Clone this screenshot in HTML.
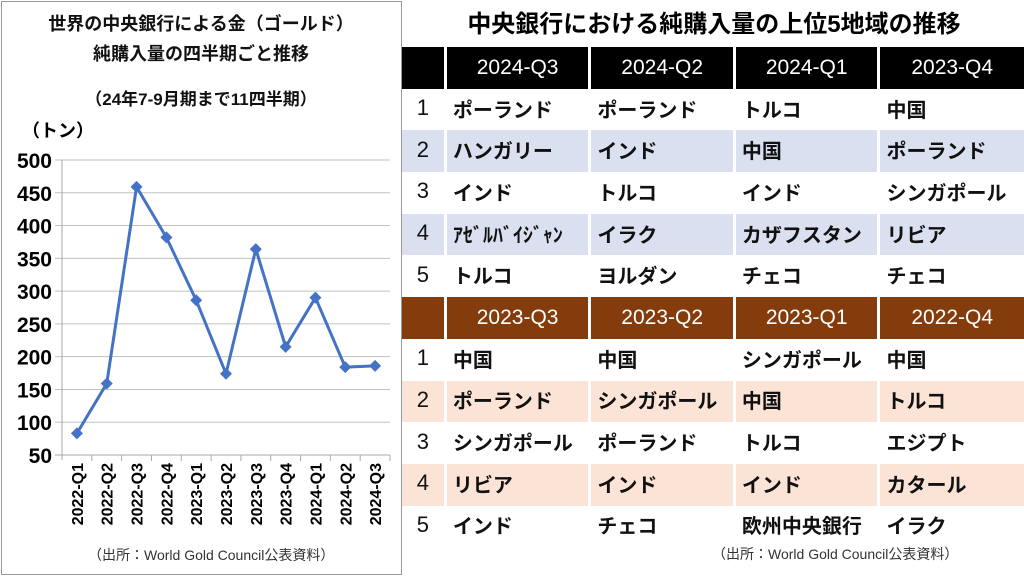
<!DOCTYPE html>
<html><head><meta charset="utf-8"><style>
body{margin:0;width:1024px;height:577px;background:#fff;font-family:"Liberation Sans","Noto Sans CJK JP",sans-serif;position:relative;overflow:hidden}
.ttl{position:absolute;left:0;width:402px;text-align:center;font-weight:bold;font-size:18px;color:#111}
#panel{position:absolute;left:1px;top:1px;width:401px;height:574px;border:1px solid #999;box-sizing:border-box}
#tbl{position:absolute;left:402px;top:47px;width:622px}
.row{display:flex;height:41.7px}
.c{box-sizing:border-box;margin-right:3px;font-weight:bold;font-size:20px;display:flex;align-items:center;padding-left:6px;padding-bottom:3px;color:#111;white-space:nowrap;overflow:hidden}
.c0{width:42px;justify-content:center;padding-left:0;font-weight:normal;font-size:22px;line-height:1}
.c1,.c2,.c3{width:142px}.c4{width:144px;margin-right:0}
.h .c{color:#fff;justify-content:center;padding-left:0;padding-bottom:0;font-weight:normal;font-size:21px}
.hb .c{background:#000}.hr .c{background:#843c0c}
.b .c{background:#dae0f0}.p .c{background:#fbe3d6}
</style></head><body>
<div id="panel"></div>
<div class="ttl" style="top:10px">世界の中央銀行による金（ゴールド）</div>
<div class="ttl" style="top:40px">純購入量の四半期ごと推移</div>
<div class="ttl" style="top:85px;font-size:17px">（24年7-9月期まで11四半期）</div>
<div style="position:absolute;left:22px;top:117px;font-weight:bold;font-size:18px">（トン）</div>
<svg id="chart" width="402" height="577" style="position:absolute;left:0;top:0"></svg>
<div style="position:absolute;left:88px;top:545px;font-size:14px;color:#333">（出所：World Gold Council公表資料）</div>
<div style="position:absolute;left:404px;top:4px;width:620px;text-align:center;font-weight:bold;font-size:24px">中央銀行における純購入量の上位5地域の推移</div>
<div id="tbl"></div>
<div style="position:absolute;left:712px;top:544px;font-size:14px;color:#333">（出所：World Gold Council公表資料）</div>
<script>
const categories=["2022-Q1","2022-Q2","2022-Q3","2022-Q4","2023-Q1","2023-Q2","2023-Q3","2023-Q4","2024-Q1","2024-Q2","2024-Q3"];
const values=[83,159,459,382,286,174,364,215,290,184,186];
const yTicks=[50,100,150,200,250,300,350,400,450,500];
const NS="http://www.w3.org/2000/svg";
const svg=document.getElementById('chart');
const x0=62,x1=390,yTop=160,yBot=455;
const bw=(x1-x0)/categories.length;
const X=i=>x0+bw*(i+0.5);
const Y=v=>yBot-(v-50)/(500-50)*(yBot-yTop);
function mk(t,a){const e=document.createElementNS(NS,t);for(const k in a)e.setAttribute(k,a[k]);svg.appendChild(e);return e;}
yTicks.forEach(t=>{
 const l=mk('line',{x1:x0-7,x2:x1,y1:Y(t),y2:Y(t),stroke:t==50?'#aaa':'#c0c0c0','stroke-width':1});
 
 
 const tx=mk('text',{x:x0-10,y:Y(t)+8,'text-anchor':'end','font-size':21,'font-weight':'bold','font-family':'Liberation Sans'});
 tx.textContent=t;
 
 
});
const ax=mk('line',{x1:x0,x2:x0,y1:yTop,y2:yBot+5,stroke:'#aaa'});


categories.forEach((c,i)=>{
 const tk=mk('line',{x1:x0+bw*(i+1),x2:x0+bw*(i+1),y1:yBot,y2:yBot+6,stroke:'#aaa'});
 
 
 const tx=mk('text',{x:0,y:0,'text-anchor':'end','font-size':16,'font-weight':'bold','font-family':'Liberation Sans',transform:`translate(${X(i)+6},${yBot+8}) rotate(-90)`});
 tx.textContent=c;
 
 
});
const pl=mk('polyline',{points:values.map((v,i)=>X(i)+','+Y(v)).join(' '),fill:'none',stroke:'#4472c4','stroke-width':3,'stroke-linejoin':'round'});


values.forEach((v,i)=>{
 const x=X(i),y=Y(v);
 const m=mk('polygon',{points:`${x},${y-6} ${x+6},${y} ${x},${y+6} ${x-6},${y}`,fill:'#4472c4'});
 
 
});
const h1=["","2024-Q3","2024-Q2","2024-Q1","2023-Q4"];
const r1=[["ポーランド","ポーランド","トルコ","中国"],["ハンガリー","インド","中国","ポーランド"],["インド","トルコ","インド","シンガポール"],["ｱｾﾞﾙﾊﾞｲｼﾞｬﾝ","イラク","カザフスタン","リビア"],["トルコ","ヨルダン","チェコ","チェコ"]];
const h2=["","2023-Q3","2023-Q2","2023-Q1","2022-Q4"];
const r2=[["中国","中国","シンガポール","中国"],["ポーランド","シンガポール","中国","トルコ"],["シンガポール","ポーランド","トルコ","エジプト"],["リビア","インド","インド","カタール"],["インド","チェコ","欧州中央銀行","イラク"]];
const tbl=document.getElementById('tbl');
function row(cells,cls,name){
 const r=document.createElement('div');r.className='row '+cls;
 
 
 cells.forEach((t,i)=>{const d=document.createElement('div');d.className='c c'+i;d.textContent=t;
  
  
  r.appendChild(d);});
 tbl.appendChild(r);
}
row(h1,'h hb','header-row-2024');
r1.forEach((r,i)=>row([String(i+1),...r],i%2?'b':'','rank-row'));
row(h2,'h hr','header-row-2023');
r2.forEach((r,i)=>row([String(i+1),...r],i%2?'p':'','rank-row'));
</script>
</body></html>
